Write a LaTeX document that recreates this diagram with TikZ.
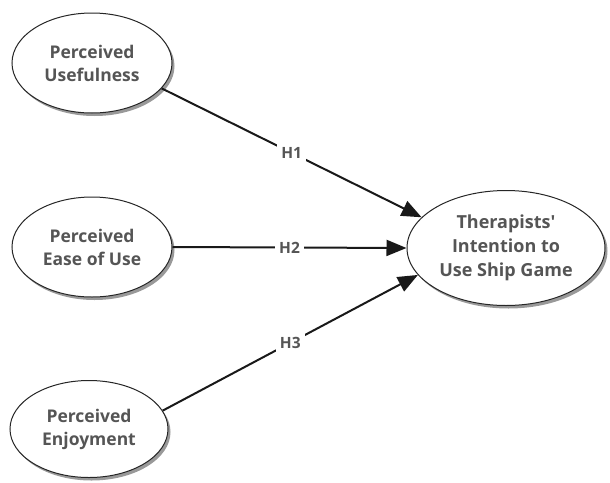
\documentclass[tikz,border=0pt]{standalone}
\usepackage{fontspec}
\setmainfont{Open Sans}[Ligatures=TeXOff]
\usetikzlibrary{shapes.geometric,arrows.meta,shadows}
\definecolor{txt}{HTML}{555555}
\begin{document}
\begin{tikzpicture}[x=1pt,y=-1pt,
  construct/.style={ellipse, draw=black!85, line width=1pt, fill=white,
    inner sep=0pt, minimum width=160pt, minimum height=100pt,
    align=center, text=txt,
    font=\fontsize{17.5}{23}\selectfont\bfseries,
    drop shadow={shadow xshift=2.5pt, shadow yshift=-3pt, fill=black, opacity=0.4}},
  arr/.style={line width=2pt, draw=black!90, -{Triangle[length=20pt,width=16pt]}},
  hyp/.style={fill=white, text=txt, inner sep=4pt, font=\fontsize{15.5}{18}\selectfont\bfseries}]
\useasboundingbox (0,0) rectangle (610,482);
\node[construct] (pu) at (92,63) {Perceived\\Usefulness};
\node[construct] (pe) at (92,247) {Perceived\\Ease of Use};
\node[construct, minimum width=158pt, minimum height=97pt] (pj) at (89,429) {Perceived\\Enjoyment};
\node[construct, minimum width=198pt, minimum height=115pt, font=\fontsize{18}{24}\selectfont\bfseries] (ti) at (506,248) {Therapists'\\Intention to\\Use Ship Game};
\draw[arr] (pu.-20) -- node[hyp]{H1} (ti.160);
\draw[arr] (pe.east) -- node[hyp]{H2} (ti.west);
\draw[arr] (pj.14) -- node[hyp]{H3} (ti.197);
\end{tikzpicture}
\end{document}
